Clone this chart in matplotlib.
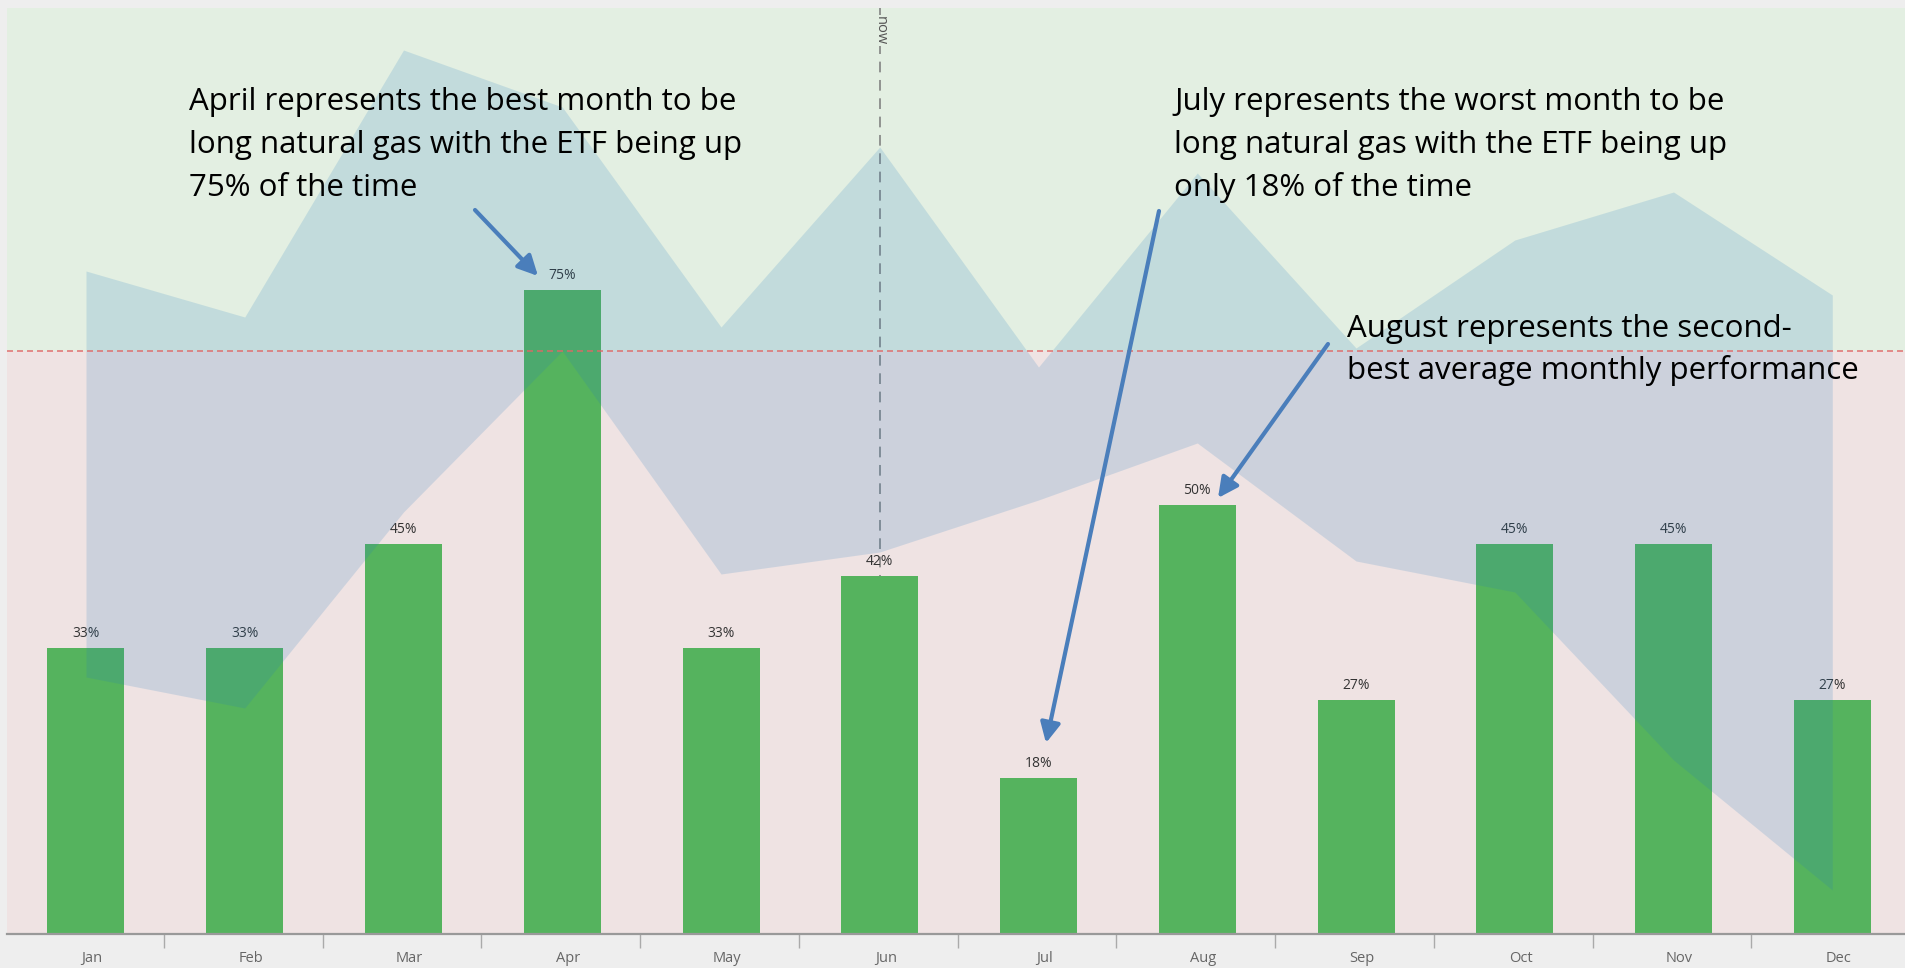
import matplotlib
matplotlib.use("Agg")
import matplotlib.pyplot as plt
import matplotlib.transforms as mtransforms
import numpy as np

plt.rcParams['font.family'] = ['Open Sans', 'DejaVu Sans']

# ---------------- data ----------------
months = ['Jan', 'Feb', 'Mar', 'Apr', 'May', 'Jun', 'Jul', 'Aug', 'Sep', 'Oct', 'Nov', 'Dec']
pct_up = [33.3, 33.3, 45.5, 75.0, 33.3, 41.7, 18.2, 50.0, 27.3, 45.5, 45.5, 27.3]
pct_labels = ['33%', '33%', '45%', '75%', '33%', '42%', '18%', '50%', '27%', '45%', '45%', '27%']
# monthly return range (high / low), %
ret_high = [4.0, 1.7, 15.05, 12.2, 1.2, 10.2, -0.8, 8.9, 0.15, 5.55, 7.95, 2.8]
ret_low = [-16.3, -17.85, -8.05, 0.0, -11.15, -10.05, -7.45, -4.6, -10.5, -12.05, -20.45, -26.95]
now_month = 'Jun'

note_april = ["April represents the best month to be",
              "long natural gas with the ETF being up",
              "75% of the time"]
note_july = ["July represents the worst month to be",
             "long natural gas with the ETF being up",
             "only 18% of the time"]
note_aug = ["August represents the second-",
            "best average monthly performance"]

# ---------------- figure ----------------
W, H = 1905, 968
fig = plt.figure(figsize=(W / 100, H / 100), dpi=100, facecolor='#eeeeee')

left_px, right_px, top_px, bottom_px = 7, 1905, 8, 934
rect = [left_px / W, 1 - bottom_px / H, (right_px - left_px) / W, (bottom_px - top_px) / H]

x = np.arange(len(months))
xlim = (-0.4975, 11.458)
ret_lim = (-29.15, 17.15)
pct_lim = (0, 107.9)

# background axis (return scale)
ax0 = fig.add_axes(rect)
ax0.set_xlim(xlim)
ax0.set_ylim(ret_lim)
ax0.axhspan(0, ret_lim[1], color='#e3efe2', lw=0, zorder=0)
ax0.axhspan(ret_lim[0], 0, color='#efe3e3', lw=0, zorder=0)
now_x = months.index(now_month)
ax0.axvline(now_x, color='#7a7a7a', lw=1.1, ls=(0, (7, 5)), zorder=1)
trans = mtransforms.blended_transform_factory(ax0.transData, ax0.transAxes)
ax0.text(now_x, 0.991, 'now', transform=trans, rotation=-90, ha='center', va='top',
         fontsize=10.5, color='#555555', zorder=2,
         bbox=dict(facecolor='#e3efe2', edgecolor='none', pad=0.6))
ax0.axis('off')

# bar axis
ax1 = fig.add_axes(rect, sharex=ax0)
ax1.patch.set_visible(False)
ax1.set_ylim(pct_lim)
ax1.bar(x, pct_up, width=0.485, color='#55b35e', zorder=2)
for xi, v, lab in zip(x, pct_up, pct_labels):
    ax1.annotate(lab, (xi, v), xytext=(0, 5), textcoords='offset points',
                 ha='center', va='bottom', fontsize=10, color='#333333')
for s in ['top', 'right', 'left']:
    ax1.spines[s].set_visible(False)
ax1.spines['bottom'].set_color('#999999')
ax1.spines['bottom'].set_linewidth(1.6)
ax1.set_yticks([])
ax1.set_xticks(x)
ax1.set_xticklabels(months, fontsize=10.5, color='#666666')
ax1.tick_params(axis='x', which='major', length=0, pad=12)
ax1.set_xticks(x[:-1] + 0.49, minor=True)
ax1.tick_params(axis='x', which='minor', length=10, width=1, color='#aaaaaa')
ax1.set_xlim(xlim)
shift = mtransforms.ScaledTranslation(6 / 100, 0, fig.dpi_scale_trans)
for lab in ax1.get_xticklabels():
    lab.set_transform(lab.get_transform() + shift)

# area-range axis (return scale), on top of bars
ax2 = fig.add_axes(rect, sharex=ax0)
ax2.patch.set_visible(False)
ax2.set_ylim(ret_lim)
ax2.fill_between(x, ret_low, ret_high, color='#237dbf', alpha=0.17, lw=0, zorder=3)
ax2.axhline(0, color='#e06666', lw=1.2, ls=(0, (3.6, 2.4)), alpha=0.85, zorder=4)
ax2.axis('off')
ax2.set_xlim(xlim)

# ---------------- annotations ----------------
def put_lines(lines, x_px, base_px, step):
    for i, s in enumerate(lines):
        fig.text(x_px / W, 1 - (base_px + i * step) / H, s, ha='left', va='baseline',
                 fontsize=22.5, color='black')

put_lines(note_april, 189, 110, 43)
put_lines(note_july, 1174, 110, 43)
put_lines(note_aug, 1347, 337, 42)

arrow_kw = dict(arrowstyle='-|>,head_length=0.6,head_width=0.3', color='#4a7ebb',
                lw=3, shrinkA=0, shrinkB=0, mutation_scale=20)
for (x0, y0), (x1, y1) in [((475, 210), (538, 276)),
                           ((1159, 211), (1046, 743)),
                           ((1328, 344), (1218, 498))]:
    ax2.annotate('', xy=(x1, H - y1), xycoords='figure pixels',
                 xytext=(x0, H - y0), textcoords='figure pixels',
                 arrowprops=arrow_kw, zorder=10)

fig.savefig('out.png', dpi=100, facecolor=fig.get_facecolor())
